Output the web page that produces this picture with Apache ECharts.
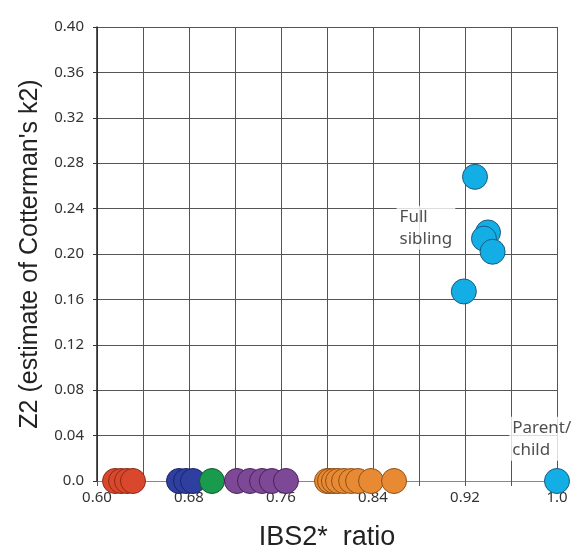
<!DOCTYPE html>
<html><head><meta charset="utf-8">
<script src="https://cdn.jsdelivr.net/npm/echarts@6/dist/echarts.min.js"></script>
<style>html,body{margin:0;padding:0;background:#fff}#c{width:579px;height:548px}</style>
</head><body><div id="c"></div>
<script>
// IBS2* ratio values for pairs with Z2 = 0, grouped by colour
const redX = [0.6157, 0.6209, 0.6261, 0.6313];
const darkBlueX = [0.6713, 0.6774, 0.6835];
const greenX = [0.700];
const purpleX = [0.7217, 0.733, 0.7435, 0.752, 0.7643];
const orangeX = [0.800, 0.8026, 0.806, 0.8096, 0.8148, 0.821, 0.827, 0.8383, 0.8583];
// Full sibling pairs: [IBS2* ratio, Z2]
const fullSibX = [0.9287, 0.940, 0.9365, 0.944, 0.919];
const fullSibY = [0.268, 0.219, 0.2136, 0.202, 0.167];
// Parent/child pair
const parentChildX = [1.0];
const parentChildY = [0.0];
// Annotations (top-left anchor of each text block)
const annotTexts = ['Full\nsibling', 'Parent/\nchild'];
const annotX = [0.8605, 0.9585];
const annotY = [0.2425, 0.0565];
// Tick labels shown on x axis
const xTickLabels = ['0.60', '0.68', '0.76', '0.84', '0.92', '1.0'];

const zeroSeries = (xs) => xs.map(x => [x, 0]);
const chart = echarts.init(document.getElementById('c'), null, {renderer: 'canvas'});
const dot = (name, data, color, border) => ({
  name, type: 'scatter', data, symbolSize: 25,
  itemStyle: {color, borderColor: border, borderWidth: 1, opacity: 1}
});
chart.setOption({
  animation: false,
  backgroundColor: '#fff',
  grid: {left: 97, right: 22, top: 27, bottom: 67, containLabel: false, outerBoundsMode: 'none'},
  xAxis: {
    type: 'value', min: 0.6, max: 1.0, interval: 0.04,
    name: 'IBS2*  ratio', nameLocation: 'middle', nameGap: 43,
    nameTextStyle: {fontSize: 27, color: '#222', fontFamily: 'Liberation Sans'},
    axisLine: {show: true, lineStyle: {color: '#888', width: 1}},
    axisTick: {show: true, length: 5, lineStyle: {color: '#555'}},
    axisLabel: {fontSize: 15, color: '#333', margin: 9, fontFamily: 'Noto Sans',
      formatter: v => {
        const s = Math.abs(v - 1) < 1e-9 ? '1.0' : v.toFixed(2);
        return xTickLabels.includes(s) ? s : '';
      }},
    splitLine: {show: true, lineStyle: {color: '#555', width: 1}}
  },
  yAxis: {
    type: 'value', min: 0, max: 0.4, interval: 0.04,
    name: "Z2 (estimate of Cotterman's k2)", nameLocation: 'middle', nameGap: 54,
    nameTextStyle: {fontSize: 25, color: '#222', fontFamily: 'Liberation Sans'},
    axisLine: {show: true, lineStyle: {color: '#222', width: 1.5}},
    axisTick: {show: true, length: 4, lineStyle: {color: '#333'}},
    axisLabel: {fontSize: 15, color: '#333', margin: 13, fontFamily: 'Noto Sans',
      formatter: v => Math.abs(v) < 1e-9 ? '0.0' : v.toFixed(2)},
    splitLine: {show: true, lineStyle: {color: '#555', width: 1}}
  },
  series: [
    {
      name: 'annotations', type: 'scatter', symbolSize: 0, z: 1,
      data: annotTexts.map((t, i) => ({value: [annotX[i], annotY[i]], name: t})),
      label: {show: true, position: 'inside', formatter: p => p.name,
        fontSize: 17, lineHeight: 22, color: '#222', fontFamily: 'Noto Sans',
        backgroundColor: '#fff', padding: [0, 3], align: 'left', verticalAlign: 'top'}
    },
    dot('red', zeroSeries(redX), '#d9482c', '#8c2a18'),
    dot('darkblue', zeroSeries(darkBlueX), '#2f3f9f', '#1c2466'),
    dot('green', zeroSeries(greenX), '#1a9a4c', '#0d5a2a'),
    dot('purple', zeroSeries(purpleX), '#7d4895', '#4a2358'),
    dot('orange', zeroSeries(orangeX), '#e88a33', '#8f4f17'),
    dot('fullsib', fullSibX.map((x, i) => [x, fullSibY[i]]), '#14aee6', '#1a5c7c'),
    dot('parentchild', parentChildX.map((x, i) => [x, parentChildY[i]]), '#14aee6', '#1a5c7c')
  ]
});
</script></body></html>
